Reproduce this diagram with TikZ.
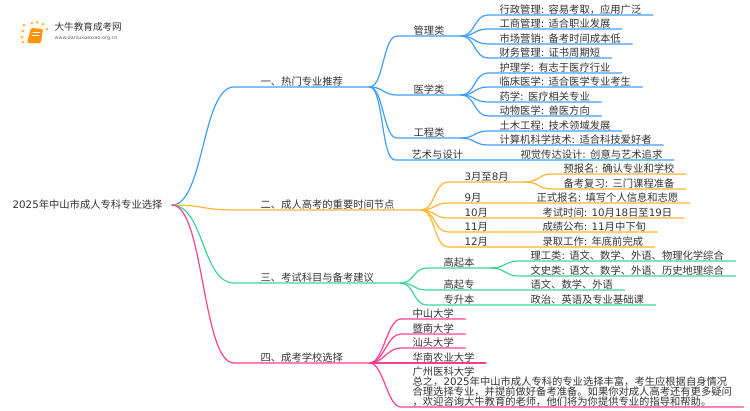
\documentclass[tikz,border=0pt]{standalone}
\usepackage{fontspec}
\setmainfont{Noto Sans CJK SC}
\newfontfamily\latf{DejaVu Sans}
\newcommand{\lat}[1]{{\latf #1}}
\lineskiplimit=-5pt
\definecolor{bluel}{RGB}{64,158,255}
\definecolor{orangel}{RGB}{255,183,51}
\definecolor{greenl}{RGB}{61,213,152}
\definecolor{pinkl}{RGB}{255,64,140}
\definecolor{inkt}{RGB}{51,51,51}
\begin{document}
\begin{tikzpicture}[x=1pt, y=-1pt, line width=1.2pt, line cap=round,
	txt/.style = {font=\fontsize{10.3}{10.2}\selectfont, text=inkt, anchor=south west, inner ysep=0pt, text depth=0.5pt},
	top/.style = {txt, inner xsep=26pt},
	mid/.style = {txt, inner xsep=16pt},
	leaf/.style = {txt, inner xsep=11pt},
	link/.style = {out=0, in=180, distance=#1},
	link/.default = 14pt]
	\useasboundingbox (0,0) rectangle (750,410);
	% logo
	\foreach \dx/\dy in {24/25, 32/23, 37/22, 43/24, 47/29, 23/31, 22/37, 23/42}
		\fill[orangel] (\dx,\dy) circle (1.5pt);
	\fill[orange!85!yellow, rounded corners=1.5pt] (31,28) -- (43,29) -- (41,43) -- (27,43) -- cycle;
	\draw[white, line width=0.6pt] (33,32) -- (40,32) (32,35) -- (39,35);
	\shade[left color=white, middle color=black!18, right color=white] (50,32.7) rectangle (133,33.3);
	\node[font=\fontsize{9.6}{10}\selectfont, text=inkt, anchor=west, inner sep=0pt] (logoa) at (54,27) {大牛教育成考网};
	\node[font=\latf\fontsize{4.9}{6}\selectfont, text=black!60, anchor=west, inner sep=0pt] (logob) at (54,38.5) {www.daniuxuexiao.org.cn};
	% root
	\node[font=\fontsize{10.3}{10}\selectfont, text=inkt, anchor=west, inner xsep=9pt, inner ysep=0pt] (root) at (3,205) {\lat{2025}年中山市成人专科专业选择};
	% first level
	\node[top] (b1) at (234,87) {一、热门专业推荐};
	\node[top] (b2) at (234,210) {二、成人高考的重要时间节点};
	\node[top] (b3) at (234,283) {三、考试科目与备考建议};
	\node[top] (b4) at (234,363) {四、成考学校选择};
	% second level
	\node[mid] (m1) at (397,36) {管理类};
	\node[mid] (m2) at (397,95) {医学类};
	\node[mid] (m3) at (397,138) {工程类};
	\node[mid] (m4) at (395,160) {艺术与设计};
	\node[mid] (t1) at (448,182) {\lat{3}月至\lat{8}月};
	\node[mid] (t2) at (448,203) {\lat{9}月};
	\node[mid] (t3) at (448,218) {\lat{10}月};
	\node[mid] (t4) at (448,232) {\lat{11}月};
	\node[mid] (t5) at (448,247) {\lat{12}月};
	\node[mid] (k1) at (427,268) {高起本};
	\node[mid] (k2) at (427,290) {高起专};
	\node[mid] (k3) at (427,305) {专升本};
	% leaves
	\node[leaf] (a1) at (488,15) {行政管理\lat{: }容易考取，应用广泛};
	\node[leaf] (a2) at (488,29) {工商管理\lat{: }适合职业发展};
	\node[leaf] (a3) at (488,44) {市场营销\lat{: }备考时间成本低};
	\node[leaf] (a4) at (488,58) {财务管理\lat{: }证书周期短};
	\node[leaf] (a5) at (488,73) {护理学\lat{: }有志于医疗行业};
	\node[leaf] (a6) at (488,87) {临床医学\lat{: }适合医学专业考生};
	\node[leaf] (a7) at (488,102) {药学\lat{: }医疗相关专业};
	\node[leaf] (a8) at (488,116) {动物医学\lat{: }兽医方向};
	\node[leaf] (a9) at (488,131) {土木工程\lat{: }技术领域发展};
	\node[leaf] (a10) at (488,145) {计算机科学技术\lat{: }适合科技爱好者};
	\node[leaf] (a11) at (509,160) {视觉传达设计\lat{: }创意与艺术追求};
	\node[leaf] (c1) at (552,174) {预报名\lat{: }确认专业和学校};
	\node[leaf] (c2) at (552,189) {备考复习\lat{: }三门课程准备};
	\node[leaf] (c3) at (525,203) {正式报名\lat{: }填写个人信息和志愿};
	\node[leaf] (c4) at (531,218) {考试时间\lat{: 10}月\lat{18}日至\lat{19}日};
	\node[leaf] (c5) at (531,232) {成绩公布\lat{: 11}月中下旬};
	\node[leaf] (c6) at (531,247) {录取工作\lat{: }年底前完成};
	\node[leaf] (d1) at (519,261) {理工类\lat{: }语文、数学、外语、物理化学综合};
	\node[leaf] (d2) at (519,276) {文史类\lat{: }语文、数学、外语、历史地理综合};
	\node[leaf] (d3) at (519,290) {语文、数学、外语};
	\node[leaf] (d4) at (519,305) {政治、英语及专业基础课};
	\node[leaf] (s1) at (401,319) {中山大学};
	\node[leaf] (s2) at (401,334) {暨南大学};
	\node[leaf] (s3) at (401,348) {汕头大学};
	\node[leaf] (s4) at (401,363) {华南农业大学};
	\node[leaf, align=left] (s5) at (401,407) {广州医科大学\\总之，\lat{2025}年中山市成人专科的专业选择丰富，考生应根据自身情况\\合理选择专业，并提前做好备考准备。如果你对成人高考还有更多疑问\\，欢迎咨询大牛教育的老师，他们将为你提供专业的指导和帮助。};
	% blue branch
	\draw[bluel] (root.east) to[link=32pt] (b1.south west) -- (b1.south east);
	\draw[bluel] (b1.south east) to[link] (m1.south west) -- (m1.south east);
	\draw[bluel] (b1.south east) to[link] (m2.south west) -- (m2.south east);
	\draw[bluel] (b1.south east) to[link] (m3.south west) -- (m3.south east);
	\draw[bluel] (b1.south east) to[link] (m4.south west) -- (a11.south east);
	\draw[bluel] (m1.south east) to[link] (a1.south west) -- (a1.south east);
	\draw[bluel] (m1.south east) to[link] (a2.south west) -- (a2.south east);
	\draw[bluel] (m1.south east) to[link] (a3.south west) -- (a3.south east);
	\draw[bluel] (m1.south east) to[link] (a4.south west) -- (a4.south east);
	\draw[bluel] (m2.south east) to[link] (a5.south west) -- (a5.south east);
	\draw[bluel] (m2.south east) to[link] (a6.south west) -- (a6.south east);
	\draw[bluel] (m2.south east) to[link] (a7.south west) -- (a7.south east);
	\draw[bluel] (m2.south east) to[link] (a8.south west) -- (a8.south east);
	\draw[bluel] (m3.south east) to[link] (a9.south west) -- (a9.south east);
	\draw[bluel] (m3.south east) to[link] (a10.south west) -- (a10.south east);
	% orange branch
	\draw[orangel] (root.east) to[link=32pt] (b2.south west) -- (b2.south east);
	\draw[orangel] (b2.south east) to[link] (t1.south west) -- (t1.south east);
	\draw[orangel] (b2.south east) to[link] (t2.south west) -- (c3.south east);
	\draw[orangel] (b2.south east) to[link] (t3.south west) -- (c4.south east);
	\draw[orangel] (b2.south east) to[link] (t4.south west) -- (c5.south east);
	\draw[orangel] (b2.south east) to[link] (t5.south west) -- (c6.south east);
	\draw[orangel] (t1.south east) to[link] (c1.south west) -- (c1.south east);
	\draw[orangel] (t1.south east) to[link] (c2.south west) -- (c2.south east);
	% green branch
	\draw[greenl] (root.east) to[link=32pt] (b3.south west) -- (b3.south east);
	\draw[greenl] (b3.south east) to[link] (k1.south west) -- (k1.south east);
	\draw[greenl] (b3.south east) to[link] (k2.south west) -- (d3.south east);
	\draw[greenl] (b3.south east) to[link] (k3.south west) -- (d4.south east);
	\draw[greenl] (k1.south east) to[link] (d1.south west) -- (d1.south east);
	\draw[greenl] (k1.south east) to[link] (d2.south west) -- (d2.south east);
	% pink branch
	\draw[pinkl] (root.east) to[link=32pt] (b4.south west) -- (b4.south east);
	\draw[pinkl] (b4.south east) to[link] (s1.south west) -- (s1.south east);
	\draw[pinkl] (b4.south east) to[link] (s2.south west) -- (s2.south east);
	\draw[pinkl] (b4.south east) to[link] (s3.south west) -- (s3.south east);
	\draw[pinkl] (b4.south east) to[link] (s4.south west) -- (s4.south east);
	\draw[pinkl] (b4.south east) to[link] (s5.south west) -- (s5.south east);
\end{tikzpicture}
\end{document}
